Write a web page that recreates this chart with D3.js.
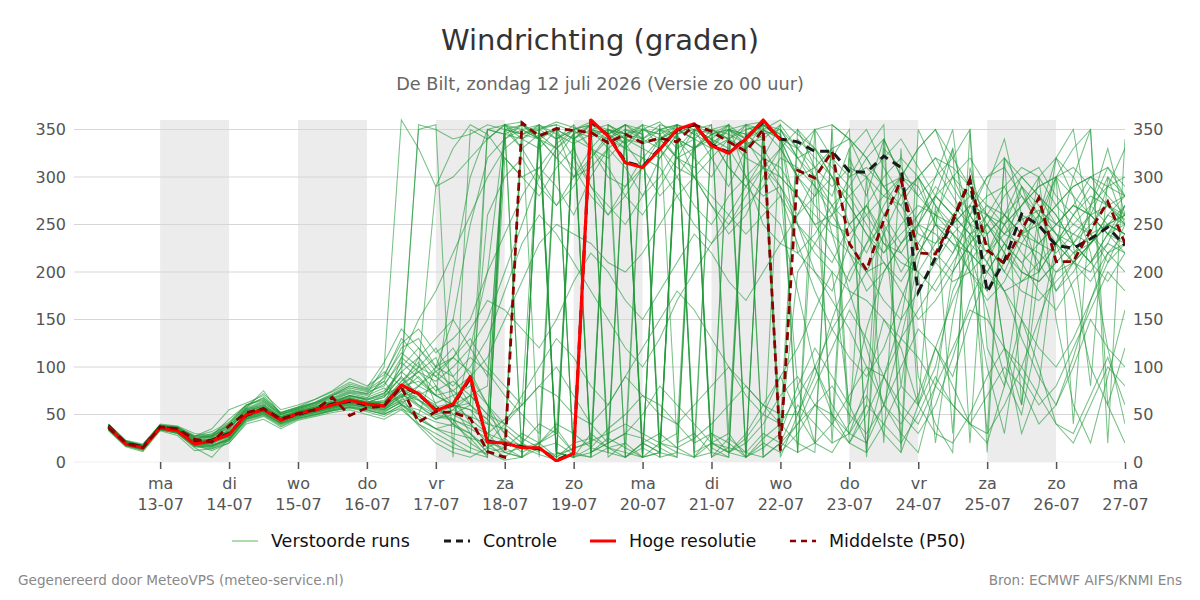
<!DOCTYPE html>
<html>
<head>
<meta charset="utf-8">
<script src="https://cdn.jsdelivr.net/npm/d3@7"></script>
<style>
  body { margin: 0; background: #fff; }
  svg { font-family: "DejaVu Sans", sans-serif; }
</style>
</head>
<body>
<svg width="1200" height="600"></svg>
<script>
// first step 12-07 06:00, every 6 hours
const startTime = new Date(2026, 6, 12, 6);
const stepHours = 6;

const dayTicks = [
  ["ma", "13-07"], ["di", "14-07"], ["wo", "15-07"], ["do", "16-07"], ["vr", "17-07"],
  ["za", "18-07"], ["zo", "19-07"], ["ma", "20-07"], ["di", "21-07"], ["wo", "22-07"],
  ["do", "23-07"], ["vr", "24-07"], ["za", "25-07"], ["zo", "26-07"], ["ma", "27-07"]
];
const shadedDays = ["13-07", "15-07", "17-07", "19-07", "21-07", "23-07", "25-07"];
const yTicks = [0, 50, 100, 150, 200, 250, 300, 350];

const hres = [37,19,15,36,33,19,22,29,50,55, 44,51,55,60,65,61,59,81,72,54,
  61,90,21,20,15,15,1,9,360,343, 315,310,329,350,356,333,325,340,360,339];

const control = [38,20,16,37,34,21,23,30,49,56, 45,50,55,61,64,60,60,80,71,55,
  60,88,22,19,16,14,2,10,358,344, 316,311,330,349,355,334,326,341,358,340,
  337,327,327,306,305,322,310,179,215,253, 297,179,212,261,249,228,225,235,247,228];

const p50 = [36,20,15,37,35,24,21,38,52,56, 45,51,55,68,49,57,59,79,42,53,
  52,46,11,5,357,343,351,349,347,336, 345,336,341,337,355,348,337,327,350,12,
  307,299,327,230,202,255,297,220,219,255, 297,223,209,244,278,211,211,244,274,230];

const members = [
  [38,20,14,38,36,25,20,35,55,58, 47,52,57,63,70,66,72,95,110,90, 75,60,40,355,350,340,10,5,350,345, 355,8,340,320,350,5,15,345,330,300, 280,250,260,300,310,290,270,240,230,250, 270,260,240,255,265,250,240,260,270,255],
  [35,18,16,35,30,18,25,32,48,52, 42,49,54,58,62,60,55,70,65,50, 45,20,8,320,300,280,310,330,290,260, 280,310,330,300,270,250,280,300,320,290, 80,120,90,60,140,200,230,250,240,220, 260,280,290,250,230,220,240,230,250,240],
  [40,22,18,40,38,30,28,45,60,65, 50,55,60,70,80,75,85,120,130,100, 110,95,60,15,5,350,340,355,330,320, 340,355,5,10,350,340,355,300,280,290, 250,230,210,250,270,230,210,200,180,210, 240,250,230,200,190,210,230,250,270,260],
  [34,17,12,34,30,15,5,25,45,50, 38,46,50,55,58,55,50,60,45,35, 40,30,10,2,5,15,20,8,5,350, 340,20,30,15,5,10,350,340,5,20, 40,60,80,50,30,60,100,140,120,90, 150,200,230,210,180,160,190,210,230,220],
  [39,21,17,37,35,22,25,28,52,60, 48,53,58,62,68,63,68,90,355,350, 340,345,355,350,345,352,355,348,342,350, 345,335,340,350,355,345,340,330,345,350, 320,300,280,330,350,310,280,300,320,290, 260,300,310,280,250,270,290,300,280,260],
  [36,19,15,35,32,20,18,22,46,55, 42,50,53,57,63,58,60,78,60,45, 55,70,50,30,15,8,2,350,10,20, 30,25,15,5,350,355,10,20,40,70, 90,60,40,20,50,90,130,110,80,60, 40,30,60,100,150,200,220,240,210,230],
  [37,20,16,36,34,24,30,38,55,62, 50,56,62,68,75,72,100,360,330,290, 300,320,340,355,358,340,320,345,355,5, 20,355,330,310,300,320,340,355,350,330, 300,270,250,240,260,280,300,290,250,230, 220,250,280,300,310,280,260,240,250,270],
  [33,16,11,33,28,12,14,20,40,45, 35,44,48,52,55,50,45,55,40,30, 20,10,5,355,340,330,350,5,15,10, 350,340,355,20,30,10,5,350,355,340, 320,330,300,270,240,220,250,270,260,240, 200,180,210,240,260,230,210,190,220,240],
  [38,21,15,37,33,20,22,30,50,57, 46,52,56,61,66,64,62,85,100,120, 90,60,350,345,355,340,350,300,320,340, 355,350,345,320,310,330,350,345,330,10, 30,60,50,20,10,40,80,60,30,20, 50,90,120,100,70,40,20,60,100,80],
  [36,18,14,37,34,21,21,30,53,58, 46,54,57,65,72,68,75,95,80,70, 200,300,350,355,345,350,358,352,345,340, 350,5,10,355,350,340,330,300,250,230, 220,240,270,290,260,230,220,250,280,260, 240,220,250,270,290,300,280,260,240,230],
  [35,19,16,34,31,17,18,24,46,52, 41,48,52,56,60,58,55,65,72,58, 62,45,30,45,60,80,70,50,40,60, 90,70,50,40,60,80,100,70,50,40, 350,330,310,290,320,340,300,280,260,300, 320,290,260,240,250,270,290,300,310,290],
  [40,23,19,39,37,28,26,40,58,68, 52,57,62,70,78,74,80,110,95,85, 100,120,150,200,250,300,330,310,280,260, 290,320,310,280,250,230,260,290,310,280, 250,220,200,180,170,150,130,160,190,220, 250,270,260,240,230,250,270,260,240,250],
  [37,20,15,36,33,18,20,27,48,54, 44,50,55,59,63,60,58,72,60,50, 55,48,40,35,20,10,340,350,355,345, 330,350,358,340,330,345,350,355,358,340, 10,20,40,70,100,90,60,40,80,120, 160,150,120,90,60,80,120,160,200,180],
  [36,19,16,35,33,22,24,32,50,55, 45,50,54,60,64,62,70,100,350,355, 5,350,340,355,5,345,350,340,350,355, 345,340,350,355,345,350,355,340,350,360, 345,330,300,250,220,260,290,250,220,200, 230,260,250,220,200,230,260,280,270,250],
  [38,20,17,38,35,26,28,36,54,61, 48,54,59,64,70,67,90,130,110,80, 50,40,20,15,350,340,5,20,25,15, 10,5,350,330,340,20,30,5,25,40, 70,100,140,170,200,210,190,220,250,240, 220,200,180,190,210,230,250,240,220,230],
  [34,18,13,34,31,16,16,25,44,50, 40,47,51,55,59,56,52,64,50,42, 38,30,15,10,5,350,355,5,30,15, 5,20,10,350,340,330,355,10,5,20, 60,40,20,30,60,40,20,50,90,60, 40,70,100,80,40,60,100,150,120,100],
  [39,21,18,38,36,27,32,42,60,66, 51,57,63,72,82,77,95,80,110,130, 150,120,90,340,355,345,330,350,5,355, 340,335,350,345,355,335,325,340,355,345, 250,200,180,230,270,240,200,230,260,250, 230,210,250,290,270,240,230,210,240,260],
  [36,19,14,36,33,20,20,28,49,54, 44,51,55,60,64,61,58,75,90,70, 60,55,30,10,15,20,35,10,5,15, 20,5,350,355,10,20,10,5,15,30, 200,230,260,280,250,220,240,260,290,270, 250,240,260,280,260,240,220,230,250,260],
  [37,20,15,37,34,19,23,29,51,56, 45,52,56,61,66,62,65,85,105,60, 40,25,5,355,330,345,350,5,10,20, 350,345,5,340,320,300,330,355,5,350, 330,300,270,220,180,200,230,260,280,300, 280,250,220,200,190,210,230,260,300,280],
  [35,18,15,36,32,20,17,26,47,53, 43,49,53,58,62,59,57,68,75,62, 70,80,60,40,25,15,5,340,355,350, 335,350,340,320,330,345,350,335,320,310, 280,260,240,220,200,240,280,300,270,250, 270,300,320,300,280,260,230,210,240,270],
  [38,21,16,37,35,23,19,34,56,60, 47,53,58,63,69,65,72,100,120,95, 80,100,130,180,230,260,240,210,180,150, 120,100,130,170,200,230,250,270,290,320, 310,290,260,230,200,170,150,180,210,240, 260,230,200,180,170,190,210,230,250,240],
  [37,19,15,36,33,19,21,30,50,55, 44,51,55,60,65,61,60,70,40,25, 15,10,350,345,340,355,10,5,350,345, 355,5,10,350,340,5,25,10,350,340, 300,310,330,340,320,290,260,230,210,190, 200,220,240,230,220,200,210,230,260,280],
  [36,20,16,35,33,21,22,28,50,54, 43,50,54,58,63,60,58,110,150,180, 220,260,300,330,345,340,320,300,310,330, 345,355,350,340,330,350,345,335,340,355, 330,310,290,310,300,280,270,300,320,310, 290,270,250,270,290,300,310,290,270,280],
  [35,17,13,35,31,17,15,23,45,51, 41,48,52,56,61,57,54,62,45,35, 30,25,20,40,70,100,130,110,80,60, 90,120,150,180,160,130,100,80,60,50, 50,90,150,200,230,250,220,200,230,260, 280,260,230,210,230,250,270,260,240,220],
  [39,22,17,39,36,26,27,38,57,64, 50,56,61,67,74,71,85,60,80,100, 120,90,60,30,355,5,350,340,355,10, 5,350,345,355,5,350,340,5,20,10, 340,320,300,280,300,320,340,310,280,260, 240,260,290,310,300,270,250,270,290,300],
  [36,19,15,36,34,20,24,31,51,56, 45,52,56,62,67,63,68,90,70,55, 45,35,25,10,5,20,30,340,330,350, 5,15,5,345,350,15,5,340,310,290, 260,280,300,270,240,210,180,150,170,200, 230,250,220,190,200,230,260,290,270,250],
  [37,21,16,38,36,27,35,55,62,70, 52,58,66,75,88,80,92,125,140,115, 130,150,200,240,280,310,290,260,300,330, 310,280,300,330,350,320,290,330,355,30, 80,20,350,40,300,20,330,60,270,30, 310,240,120,60,250,300,40,270,330,260],
  [35,19,14,36,32,18,12,20,42,48, 37,45,49,54,57,53,48,58,38,20, 10,5,15,25,10,20,40,30,15,35, 50,70,60,40,20,30,10,25,50,90, 120,160,200,60,20,90,150,250,300,350, 200,100,30,150,260,320,280,220,120,40],
  [38,22,17,38,37,24,28,40,59,72, 55,60,66,74,84,78,105,140,120,100, 90,110,95,70,50,30,350,320,290,270, 250,280,320,345,300,270,240,260,300,330, 350,310,240,180,120,60,130,210,280,330, 250,180,220,290,240,180,210,270,310,280],
  [36,18,15,34,31,19,23,26,47,54, 43,50,54,57,61,58,55,66,100,290, 330,355,345,320,300,310,335,350,330,300, 290,310,340,355,20,340,310,290,320,355, 10,300,40,330,10,250,80,200,20,150, 240,30,320,60,200,300,230,80,300,250],
  [39,20,16,37,34,23,26,33,54,59, 47,53,57,62,70,66,73,88,70,60, 40,120,200,350,5,355,10,350,355,20, 355,345,10,5,340,355,30,355,340,5, 50,100,60,30,80,150,120,60,100,180, 220,160,90,50,140,230,180,100,60,120],
  [34,17,14,35,32,18,16,24,46,52, 40,46,50,54,58,55,50,60,55,45, 50,60,45,20,340,350,5,15,20,355, 345,350,20,30,350,345,355,5,350,340, 300,280,320,350,5,330,310,280,300,320, 350,10,320,290,260,300,330,350,20,340],
  [37,19,15,36,33,21,22,29,52,56, 46,52,56,61,66,63,62,80,85,70, 75,90,110,150,190,230,250,240,230,210, 200,220,250,280,300,280,260,240,260,280, 230,180,140,110,90,120,170,220,250,230, 200,170,190,230,260,240,210,200,230,270],
  [36,20,17,37,35,22,24,30,50,58, 47,54,58,64,70,65,70,80,95,110, 70,40,20,5,20,40,30,10,350,330, 5,20,10,355,5,30,20,5,355,15, 40,80,120,160,130,90,50,30,60,110, 170,210,180,130,90,60,110,170,220,200],
  [38,21,16,38,35,24,27,35,56,63, 49,55,60,66,73,70,78,60,50,100, 150,250,320,340,350,355,345,335,345,350, 340,330,320,345,355,350,340,320,310,300, 280,250,220,190,230,270,300,330,350,300, 260,230,200,240,280,260,230,210,190,220],
  [35,18,14,35,31,17,17,24,45,51, 41,48,52,57,60,57,53,63,70,80, 60,30,10,15,30,20,5,355,10,25, 15,5,20,10,5,20,15,10,30,20, 10,350,320,300,330,355,20,350,310,280, 250,220,260,300,280,250,270,300,290,280],
  [37,20,15,37,34,21,20,31,51,57, 45,51,56,60,65,62,60,75,65,55, 60,70,80,350,355,340,330,345,5,350, 345,5,355,350,340,5,350,345,355,340, 330,350,355,340,300,260,230,250,280,260, 240,210,180,150,120,100,130,170,210,250],
  [36,19,16,36,33,20,22,28,49,55, 45,51,55,59,64,61,57,72,58,48, 44,38,30,22,18,12,8,14,22,30, 40,30,20,15,25,40,60,80,60,40, 20,10,355,340,320,290,300,330,350,320, 290,260,240,270,300,320,300,270,250,260],
  [40,22,18,39,37,27,29,41,60,67, 52,58,63,71,80,76,88,115,100,90, 110,130,100,80,60,355,340,350,358,345, 355,340,330,355,345,335,350,340,355,350, 320,290,270,250,270,300,320,300,270,240, 220,200,230,260,250,230,210,230,250,240],
  [34,17,13,34,30,16,14,22,43,49, 39,46,50,54,57,54,51,56,48,35, 25,15,8,350,345,355,10,5,350,340, 330,320,340,350,355,330,340,350,355,345, 220,200,170,140,100,60,40,70,120,170, 210,240,260,240,210,180,200,230,260,250],
  [36,19,15,36,33,21,23,30,51,57, 45,51,55,60,66,62,63,82,95,75, 85,70,50,40,60,80,100,70,40,20, 30,50,80,60,40,20,10,30,60,90, 50,20,10,40,70,30,10,60,120,80, 40,20,80,150,100,40,30,70,110,60],
  [37,20,16,37,34,22,21,29,52,57, 46,52,57,62,67,63,64,78,66,52, 58,62,260,300,320,290,270,300,330,310, 280,260,290,320,300,270,250,280,310,330, 300,350,20,320,280,340,10,300,250,330, 20,290,340,260,200,320,350,240,290,330],
  [35,18,14,35,32,19,19,27,48,53, 43,49,53,58,62,59,56,69,80,95, 110,140,170,160,140,120,150,190,220,200, 170,150,180,210,240,220,190,170,200,230, 260,300,330,20,60,340,300,90,40,10, 350,120,80,200,300,150,60,20,90,160],
  [38,21,17,38,35,25,26,37,57,75, 50,56,62,70,76,72,82,105,88,70, 60,55,45,350,330,300,270,290,320,345, 335,310,280,300,330,340,310,290,270,250, 180,100,50,30,20,60,30,10,80,200, 270,240,120,30,80,230,300,350,60,20]
];

const legendItems = [
  { label: "Verstoorde runs", color: "#5cb85c", width: 1, dash: null, x: 232 },
  { label: "Controle", color: "#1a1a1a", width: 3, dash: "7,5", x: 444 },
  { label: "Hoge resolutie", color: "#ff0000", width: 3, dash: null, x: 590 },
  { label: "Middelste (P50)", color: "#8b0000", width: 2.5, dash: "6,5", x: 790 }
];

const svg = d3.select("svg");
const margin = { left: 74, right: 1125, top: 120, bottom: 462 };

const timeAt = (i) => new Date(startTime.getTime() + i * stepHours * 3600 * 1000);
const parseDay = (s) => {
  const [d, m] = s.split("-").map(Number);
  return new Date(2026, m - 1, d);
};

const x = d3.scaleTime()
  .domain([new Date(2026, 6, 11, 18), new Date(2026, 6, 27, 0)])
  .range([margin.left, margin.right]);

const y = d3.scaleLinear()
  .domain([0, 360])
  .range([margin.bottom, margin.top]);

// title
svg.append("text")
  .attr("x", 600).attr("y", 50)
  .attr("text-anchor", "middle")
  .attr("font-size", 29).attr("fill", "#333")
  .text("Windrichting (graden)");

svg.append("text")
  .attr("x", 600).attr("y", 90)
  .attr("text-anchor", "middle")
  .attr("font-size", 17.7).attr("fill", "#666")
  .text("De Bilt, zondag 12 juli 2026 (Versie zo 00 uur)");

// shaded days
svg.append("g")
  .selectAll("rect")
  .data(shadedDays)
  .join("rect")
  .attr("x", (d) => x(parseDay(d)))
  .attr("y", margin.top)
  .attr("width", (d) => x(d3.timeDay.offset(parseDay(d), 1)) - x(parseDay(d)))
  .attr("height", margin.bottom - margin.top)
  .attr("fill", "#ececec");

// grid
svg.append("g")
  .selectAll("line")
  .data(yTicks)
  .join("line")
  .attr("x1", margin.left).attr("x2", margin.right)
  .attr("y1", (d) => y(d)).attr("y2", (d) => y(d))
  .attr("stroke", (d) => (d === 0 ? "#eeeeee" : "#d6d6d6"))
  .attr("stroke-width", 1);

// y labels both sides
const yLeft = d3.axisLeft(y).tickValues(yTicks).tickSize(0).tickPadding(8);
const yRight = d3.axisRight(y).tickValues(yTicks).tickSize(0).tickPadding(8);

svg.append("g")
  .attr("transform", `translate(${margin.left},0)`)
  .call(yLeft)
  .call((g) => g.select(".domain").remove())
  .selectAll("text")
  .attr("font-size", 16).attr("fill", "#555").attr("font-family", "DejaVu Sans");

svg.append("g")
  .attr("transform", `translate(${margin.right},0)`)
  .call(yRight)
  .call((g) => g.select(".domain").remove())
  .selectAll("text")
  .attr("font-size", 16).attr("fill", "#555").attr("font-family", "DejaVu Sans");

// x axis
const xAxis = d3.axisBottom(x)
  .tickValues(dayTicks.map((d) => parseDay(d[1])))
  .tickSize(7)
  .tickFormat(() => "");

const xg = svg.append("g")
  .attr("transform", `translate(0,${margin.bottom})`)
  .call(xAxis);
xg.select(".domain").remove();
xg.selectAll(".tick line").attr("stroke", "#555").attr("stroke-width", 1.5);
xg.selectAll(".tick").each(function (d, i) {
  const t = d3.select(this);
  t.append("text").attr("y", 27).attr("fill", "#555").attr("font-size", 16)
    .attr("font-family", "DejaVu Sans").text(dayTicks[i][0]);
  t.append("text").attr("y", 48).attr("fill", "#555").attr("font-size", 16)
    .attr("font-family", "DejaVu Sans").text(dayTicks[i][1]);
});

// clip
svg.append("clipPath").attr("id", "plot")
  .append("rect")
  .attr("x", margin.left).attr("y", margin.top - 2)
  .attr("width", margin.right - margin.left)
  .attr("height", margin.bottom - margin.top + 2);

const line = d3.line()
  .x((d, i) => x(timeAt(i)))
  .y((d) => y(d));

const plot = svg.append("g").attr("clip-path", "url(#plot)");

plot.append("g")
  .selectAll("path")
  .data(members)
  .join("path")
  .attr("d", line)
  .attr("fill", "none")
  .attr("stroke", "#1f9a38")
  .attr("stroke-opacity", 0.6)
  .attr("stroke-width", 1.05);

plot.append("path")
  .attr("d", line(control))
  .attr("fill", "none")
  .attr("stroke", "#1a1a1a")
  .attr("stroke-width", 3)
  .attr("stroke-dasharray", "9,6");

plot.append("path")
  .attr("d", line(hres))
  .attr("fill", "none")
  .attr("stroke", "#ff0000")
  .attr("stroke-width", 3.2)
  .attr("stroke-linejoin", "round");

plot.append("path")
  .attr("d", line(p50))
  .attr("fill", "none")
  .attr("stroke", "#8b0000")
  .attr("stroke-width", 2.8)
  .attr("stroke-dasharray", "8,5");

// legend
const legend = svg.append("g").attr("transform", "translate(0,541)");
legendItems.forEach((d) => {
  legend.append("line")
    .attr("x1", d.x).attr("x2", d.x + 26)
    .attr("y1", 0).attr("y2", 0)
    .attr("stroke", d.color)
    .attr("stroke-width", d.width)
    .attr("stroke-dasharray", d.dash);
  legend.append("text")
    .attr("x", d.x + 39).attr("y", 6)
    .attr("font-size", 17.5).attr("fill", "#111")
    .text(d.label);
});

// footer
svg.append("text")
  .attr("x", 18).attr("y", 585)
  .attr("font-size", 13.6).attr("fill", "#888")
  .text("Gegenereerd door MeteoVPS (meteo-service.nl)");

svg.append("text")
  .attr("x", 1182).attr("y", 585)
  .attr("text-anchor", "end")
  .attr("font-size", 13.6).attr("fill", "#888")
  .text("Bron: ECMWF AIFS/KNMI Ens");
</script>
</body>
</html>
